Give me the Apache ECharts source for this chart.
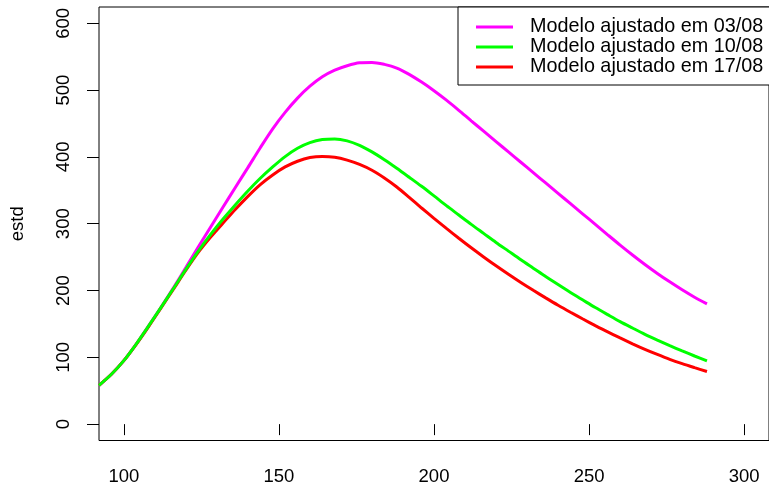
<!DOCTYPE html>
<html>
<head>
<meta charset="utf-8">
<script src="https://cdn.jsdelivr.net/npm/echarts@6/dist/echarts.min.js"></script>
<style>
  html, body { margin: 0; padding: 0; background: #fff; }
  #chart { width: 769px; height: 486px; }
</style>
</head>
<body>
<div id="chart"></div>
<script>
// Day index (x) shared by the three fitted curves
const dias = [92, 96, 100, 104, 108, 112, 116, 120, 124, 128, 132, 136, 140, 144, 148, 152, 156,
              160, 164, 168, 172, 176, 180, 184, 188, 192, 196, 200, 204, 208, 212, 216, 220,
              224, 228, 232, 236, 240, 244, 248, 252, 256, 260, 264, 268, 272, 276, 280, 284, 288];

// Fitted model curves (estd) for each adjustment date
const modelo0308 = [58, 74.6, 95, 119.8, 147, 174.9, 204, 234.3, 265, 295, 325, 354.6, 384, 413.8,
                    442, 466.6, 488, 505.8, 520, 529.9, 536.5, 540.9, 541.5, 538.5, 533, 523.6,
                    512, 499.1, 485, 469.8, 454, 438.5, 423, 407.5, 392, 376.5, 361, 345.5, 330,
                    314.5, 299, 283.4, 268, 253.2, 239, 225.6, 213, 201.1, 190, 180];
const modelo1008 = [58, 74.6, 95, 119.8, 147, 174.8, 203, 231.6, 259, 284, 307, 328.5, 349, 368,
                    385, 400.5, 413, 421.4, 426, 426.9, 424, 417.3, 407.5, 395.8, 383, 369.6,
                    356, 341.6, 327, 313, 299, 285.5, 272, 259, 246, 233.5, 221, 209, 197,
                    185.7, 174.5, 163.9, 153.5, 143.9, 134.5, 125.8, 117.5, 109.6, 102, 94.7];
const modelo1708 = [58, 74.6, 95, 119.5, 146, 174, 202, 230.3, 257, 280, 301, 321.7, 341, 358.6,
                    373, 385, 393.5, 399, 400.7, 399.5, 395.2, 388.8, 380.1, 368.5, 355, 339.5,
                    323.5, 308, 293, 278.3, 264, 250.3, 237, 224.3, 212, 200.3, 189, 178, 167.5,
                    157.3, 147.5, 138, 129, 120.3, 112, 104.3, 97, 90.5, 84.5, 78.7];

const nomes = ['Modelo ajustado em 03/08', 'Modelo ajustado em 10/08', 'Modelo ajustado em 17/08'];
const cores = ['#ff00ff', '#00ff00', '#ff0000'];

const xTicks = [100, 150, 200, 250, 300];
const yTicks = [0, 100, 200, 300, 400, 500, 600];

const FONT = '"Liberation Sans", Arial, Helvetica, sans-serif';

function pares(ys) { return dias.map((d, i) => [d, ys[i]]); }

const chart = echarts.init(document.getElementById('chart'), null, { renderer: 'canvas' });

const serieData = [modelo0308, modelo1008, modelo1708];
const zOrdem = [2, 4, 3];

chart.setOption({
  animation: false,
  backgroundColor: '#fff',
  textStyle: { fontFamily: FONT, color: '#000' },
  grid: {
    left: 98, top: 7, width: 675.5, height: 433.7,
    show: true, borderColor: '#000', borderWidth: 1, backgroundColor: 'transparent'
  },
  legend: {
    orient: 'vertical',
    left: 458, top: 7,
    data: nomes,
    icon: 'rect',
    itemWidth: 37, itemHeight: 3,
    itemGap: 0,
    padding: [10, 12, 8, 18],
    borderColor: '#000', borderWidth: 1,
    backgroundColor: '#fff',
    textStyle: { fontFamily: FONT, fontSize: 19.8, color: '#000', lineHeight: 19.2, padding: [0, 0, 0, 12] }
  },
  xAxis: {
    type: 'value',
    min: 92, max: 308,
    splitLine: { show: false },
    axisLine: { show: false },
    axisTick: { show: true, length: 11, customValues: xTicks, lineStyle: { color: '#000' } },
    axisLabel: { customValues: xTicks, margin: 26.5, fontSize: 18.5, color: '#000', fontFamily: FONT }
  },
  yAxis: {
    type: 'value',
    min: -24.5, max: 624.4,
    name: 'estd',
    nameLocation: 'middle',
    nameGap: 72,
    nameRotate: 90,
    nameTextStyle: { fontSize: 18.5, color: '#000', fontFamily: FONT },
    splitLine: { show: false },
    axisLine: { show: false },
    axisTick: { show: true, length: 12, customValues: yTicks, lineStyle: { color: '#000' } },
    axisLabel: { customValues: yTicks, rotate: 90, margin: 26, fontSize: 18.5, color: '#000', fontFamily: FONT }
  },
  series: nomes.map((nome, i) => ({
    name: nome,
    type: 'line',
    data: pares(serieData[i]),
    smooth: 0.3,
    showSymbol: false,
    symbol: 'none',
    z: zOrdem[i],
    color: cores[i],
    lineStyle: { color: cores[i], width: 3 }
  }))
});
</script>
</body>
</html>
